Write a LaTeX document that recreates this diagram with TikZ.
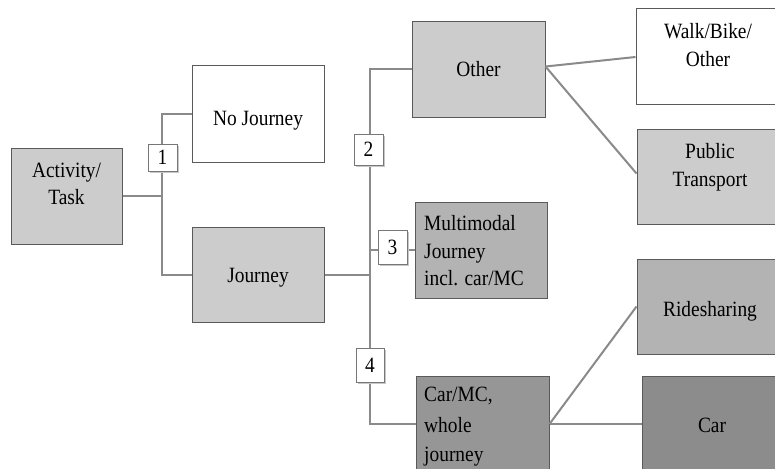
\documentclass[tikz,border=0pt]{standalone}
\usepackage{fontspec}
\setmainfont{Liberation Serif}[FakeStretch=0.89]
\usetikzlibrary{shadows}
\begin{document}
\begin{tikzpicture}[x=1pt,y=-1pt,
  box/.style={draw=boxline, line width=1pt, inner sep=0pt},
  numbox/.style={draw=numline, fill=white, line width=0.9pt, inner sep=0pt,
     minimum width=29pt, font=\fontsize{21.8}{27}\selectfont,
     drop shadow={shadow xshift=1.5pt, shadow yshift=-1.5pt, fill=black!22, opacity=1}},
  lbl/.style={anchor=base, inner sep=0pt, font=\fontsize{21.8}{27}\selectfont},
  lbll/.style={anchor=base west, inner sep=0pt, font=\fontsize{21.8}{27}\selectfont},
  conn/.style={draw=connline, line width=2pt}]
\definecolor{boxline}{HTML}{5A5A5A}
\definecolor{numline}{HTML}{777777}
\definecolor{connline}{HTML}{8A8A8A}
\definecolor{greyA}{HTML}{CCCCCC}
\definecolor{greyB}{HTML}{B3B3B3}
\definecolor{greyC}{HTML}{969696}
\definecolor{greyD}{HTML}{8C8C8C}
\clip (0,0) rectangle (775,468);
\fill[white] (0,0) rectangle (775,468);

% boxes
\node[box, fill=greyA, minimum width=111pt, minimum height=96pt] (act) at (66.5,196) {};
\node[box, fill=white, minimum width=132pt, minimum height=96pt] (nojourney) at (258,114) {};
\node[box, fill=greyA, minimum width=132pt, minimum height=95pt] (journey) at (258,274.5) {};
\node[box, fill=greyA, minimum width=133pt, minimum height=95pt] (other) at (478.5,69.5) {};
\node[box, fill=greyB, minimum width=132pt, minimum height=96pt] (multi) at (481,250) {};
\node[box, fill=greyC, minimum width=133pt, minimum height=96pt] (carmc) at (482.5,424) {};
\node[box, fill=white, minimum width=145pt, minimum height=96pt] (walk) at (708.5,57) {};
\node[box, fill=greyA, minimum width=144pt, minimum height=95pt] (pt) at (709,176.5) {};
\node[box, fill=greyB, minimum width=144pt, minimum height=95pt] (ride) at (709,306.5) {};
\node[box, fill=greyD, minimum width=140pt, minimum height=96pt] (car) at (712,424) {};

% connectors
\coordinate (s1) at (162,196);
\coordinate (s2) at (370,274.5);
\draw[conn] (act.east) -- (s1);
\draw[conn] (nojourney.west) -| (s1) |- (journey.west);
\draw[conn] (journey.east) -- (s2);
\draw[conn] (other.west) -| (s2) |- (carmc.west);
\draw[conn] (multi.west) -- (multi.west -| s2);
\draw[conn] ([yshift=3pt]other.east) -- (walk.west);
\draw[conn] ([yshift=3pt]other.east) -- ([yshift=3pt]pt.west);
\draw[conn] (carmc.east) -- (ride.west);
\draw[conn] (carmc.east) -- (car.west);

% number boxes
\node[numbox, minimum height=27pt] (n1) at (162.5,157.5) {1};
\node[numbox, minimum height=31pt] (n2) at (368.5,149.5) {2};
\node[numbox, minimum height=34pt] (n3) at (392.5,247) {3};
\node[numbox, minimum height=34pt, minimum width=28pt] (n4) at (370,365) {4};

% texts
\node[lbl] (act1) at (66.5,177) {Activity/};
\node[lbl] (act2) at (66.5,204) {Task};
\node[lbl] (noj1) at (258,125) {No Journey};
\node[lbl] (jou1) at (258,282) {Journey};
\node[lbl] (oth1) at (478.5,77) {Other};
\node[lbl] (walk1) at (708,39) {Walk/Bike/};
\node[lbl] (walk2) at (708,67) {Other};
\node[lbl] (pt1) at (710,158) {Public};
\node[lbl] (pt2) at (710,186) {Transport};
\node[lbl] (ride1) at (710,316) {Ridesharing};
\node[lbl] (car1) at (712,432) {Car};
\node[lbll] (mm1) at (424,230) {Multimodal};
\node[lbll] (mm2) at (424,258) {Journey};
\node[lbll] (mm3) at (424,285) {incl. car/MC};
\node[lbll] (cm1) at (424,401) {Car/MC,};
\node[lbll] (cm2) at (424,432) {whole};
\node[lbll] (cm3) at (424,461) {journey};
\end{tikzpicture}
\end{document}
